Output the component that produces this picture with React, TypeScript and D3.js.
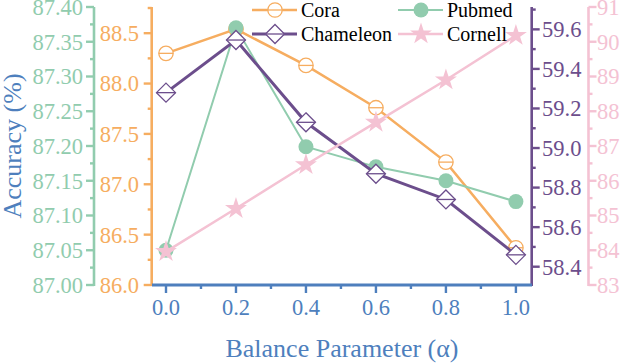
import React from "react";
import * as d3 from "d3";

const alphas = [0.0, 0.2, 0.4, 0.6, 0.8, 1.0];
const cora = [88.3, 88.54, 88.18, 87.76, 87.22, 86.37];
const pubmed = [87.05, 87.37, 87.199, 87.17, 87.15, 87.12];
const chameleon = [59.28, 59.546, 59.13, 58.87, 58.74, 58.46];
const cornell = [83.96, 85.2, 86.46, 87.68, 88.9, 90.18];

const xTicks = [0.0, 0.2, 0.4, 0.6, 0.8, 1.0];
const pubmedTicks = [87.0, 87.05, 87.1, 87.15, 87.2, 87.25, 87.3, 87.35, 87.4];
const coraTicks = [86.0, 86.5, 87.0, 87.5, 88.0, 88.5];
const chamTicks = [58.4, 58.6, 58.8, 59.0, 59.2, 59.4, 59.6];
const cornellTicks = [83, 84, 85, 86, 87, 88, 89, 90, 91];

const C = {
  green: "#91ccae",
  orange: "#f6ad60",
  purple: "#6c4e8c",
  pink: "#f4c2d3",
  blue: "#4e7fbd",
};

const W = 624;
const H = 364;
const top = 7;
const bottom = 285;
const font = "Liberation Serif, Times New Roman, serif";

const x = d3.scaleLinear().domain([-0.04, 1.046]).range([152, 532]);
const yPub = d3.scaleLinear().domain([87.0, 87.4]).range([bottom, top]);
const yCora = d3.scaleLinear().domain([86.0, 88.76]).range([bottom, top]);
const yCham = d3.scaleLinear().domain([58.3075, 59.713]).range([bottom, top]);
const yCorn = d3.scaleLinear().domain([83, 91]).range([bottom, top]);

const starPath = d3.symbol(d3.symbolStar, 150)() as string;

function Marker({ kind, cx, cy }: { kind: string; cx: number; cy: number }) {
  if (kind === "circleOpen")
    return (
      <g transform={`translate(${cx},${cy})`}>
        <circle r={7.2} fill="white" stroke={C.orange} strokeWidth={1.3} />
        <line x1={-7.2} x2={7.2} stroke={C.orange} strokeWidth={1.3} />
      </g>
    );
  if (kind === "circle") return <circle cx={cx} cy={cy} r={7.5} fill={C.green} />;
  if (kind === "diamond")
    return (
      <g transform={`translate(${cx},${cy})`}>
        <path d="M0,-9.5L9.5,0L0,9.5L-9.5,0Z" fill="white" stroke={C.purple} strokeWidth={1.3} />
        <line x1={-9.5} x2={9.5} stroke={C.purple} strokeWidth={1.3} />
      </g>
    );
  return <path transform={`translate(${cx},${cy})`} d={starPath} fill={C.pink} />;
}

function VAxis({
  scale, ticks, minor, xPos, color, side, labelX, fmt,
}: {
  scale: d3.ScaleLinear<number, number>; ticks: number[]; minor: number[]; xPos: number;
  color: string; side: number; labelX: number; fmt: (v: number) => string;
}) {
  return (
    <g>
      <line x1={xPos} x2={xPos} y1={top} y2={bottom + 1} stroke={color} strokeWidth={2.6} />
      {ticks.map((t) => (
        <line key={"M" + t} x1={xPos} x2={xPos + side * 8} y1={scale(t)} y2={scale(t)} stroke={color} strokeWidth={2.4} />
      ))}
      {minor.filter((t) => scale(t) >= top - 0.5 && scale(t) <= bottom).map((t) => (
        <line key={"m" + t} x1={xPos} x2={xPos + side * 4} y1={scale(t)} y2={scale(t)} stroke={color} strokeWidth={2.4} />
      ))}
      {ticks.map((t) => (
        <text key={"l" + t} x={labelX} y={scale(t)} dy="0.35em" fill={color} fontSize={22.5}
          textAnchor={side < 0 ? "end" : "start"} style={{ fontFamily: font }}>
          {fmt(t)}
        </text>
      ))}
    </g>
  );
}

const series = [
  { name: "Cora", vals: cora, y: yCora, color: C.orange, w: 2.5, kind: "circleOpen" },
  { name: "Pubmed", vals: pubmed, y: yPub, color: C.green, w: 2, kind: "circle" },
  { name: "Chameleon", vals: chameleon, y: yCham, color: C.purple, w: 3, kind: "diamond" },
  { name: "Cornell", vals: cornell, y: yCorn, color: C.pink, w: 2.5, kind: "star" },
];

const legendPos = [
  { lx: 252, ly: 10 },
  { lx: 398, ly: 10 },
  { lx: 252, ly: 34 },
  { lx: 398, ly: 34 },
];

export default function App() {
  const mid = (arr: number[], step: number) => arr.map((t) => t + step);
  return (
    <svg width={W} height={H} style={{ position: "absolute", left: 0, top: 0, background: "white" }}>
      <VAxis scale={yPub} ticks={pubmedTicks} minor={mid(pubmedTicks, 0.025)} xPos={94} color={C.green}
        side={-1} labelX={83} fmt={d3.format(".2f")} />
      <VAxis scale={yCora} ticks={coraTicks} minor={mid(coraTicks, 0.25)} xPos={151.7} color={C.orange}
        side={-1} labelX={139} fmt={d3.format(".1f")} />
      <VAxis scale={yCham} ticks={chamTicks} minor={[58.3, ...mid(chamTicks, 0.1)]} xPos={531.7} color={C.purple}
        side={1} labelX={542} fmt={d3.format(".1f")} />
      <VAxis scale={yCorn} ticks={cornellTicks} minor={mid(cornellTicks, 0.5)} xPos={588.5} color={C.pink}
        side={1} labelX={597} fmt={d3.format("d")} />

      {/* x axis */}
      <line x1={152} x2={532} y1={285} y2={285} stroke={C.blue} strokeWidth={3} />
      {xTicks.map((t) => (
        <g key={t}>
          <line x1={x(t)} x2={x(t)} y1={285} y2={293} stroke={C.blue} strokeWidth={2.4} />
          <text x={x(t)} y={315} textAnchor="middle" fill={C.blue} fontSize={22.5} style={{ fontFamily: font }}>
            {d3.format(".1f")(t)}
          </text>
        </g>
      ))}
      {xTicks.map((t) => t + 0.1).filter((t) => t < 1.04).map((t) => (
        <line key={"mx" + t} x1={x(t)} x2={x(t)} y1={285} y2={289} stroke={C.blue} strokeWidth={2.4} />
      ))}

      {/* titles */}
      <text transform="translate(21,146) rotate(-90)" textAnchor="middle" fill={C.blue} fontSize={26} style={{ fontFamily: font }}>
        Accuracy (%)
      </text>
      <text x={342} y={357} textAnchor="middle" fill={C.blue} fontSize={26} style={{ fontFamily: font }}>
        Balance Parameter (α)
      </text>

      {/* series */}
      {series.map((s) => {
        const line = d3.line<number>().x((_, i) => x(alphas[i])).y((v) => s.y(v));
        return (
          <g key={s.name}>
            <path d={line(s.vals) as string} fill="none" stroke={s.color} strokeWidth={s.w} />
            {s.vals.map((v, i) => (
              <Marker key={i} kind={s.kind} cx={x(alphas[i])} cy={s.y(v)} />
            ))}
          </g>
        );
      })}

      {/* legend */}
      {series.map((s, i) => {
        const p = legendPos[i];
        return (
          <g key={"lg" + s.name}>
            <line x1={p.lx} x2={p.lx + 45} y1={p.ly} y2={p.ly} stroke={s.color} strokeWidth={s.w} />
            <Marker kind={s.kind} cx={p.lx + 23} cy={p.ly} />
            <text x={p.lx + 49} y={p.ly} dy="0.35em" fontSize={20} style={{ fontFamily: font }} fill="black">
              {s.name}
            </text>
          </g>
        );
      })}
    </svg>
  );
}
